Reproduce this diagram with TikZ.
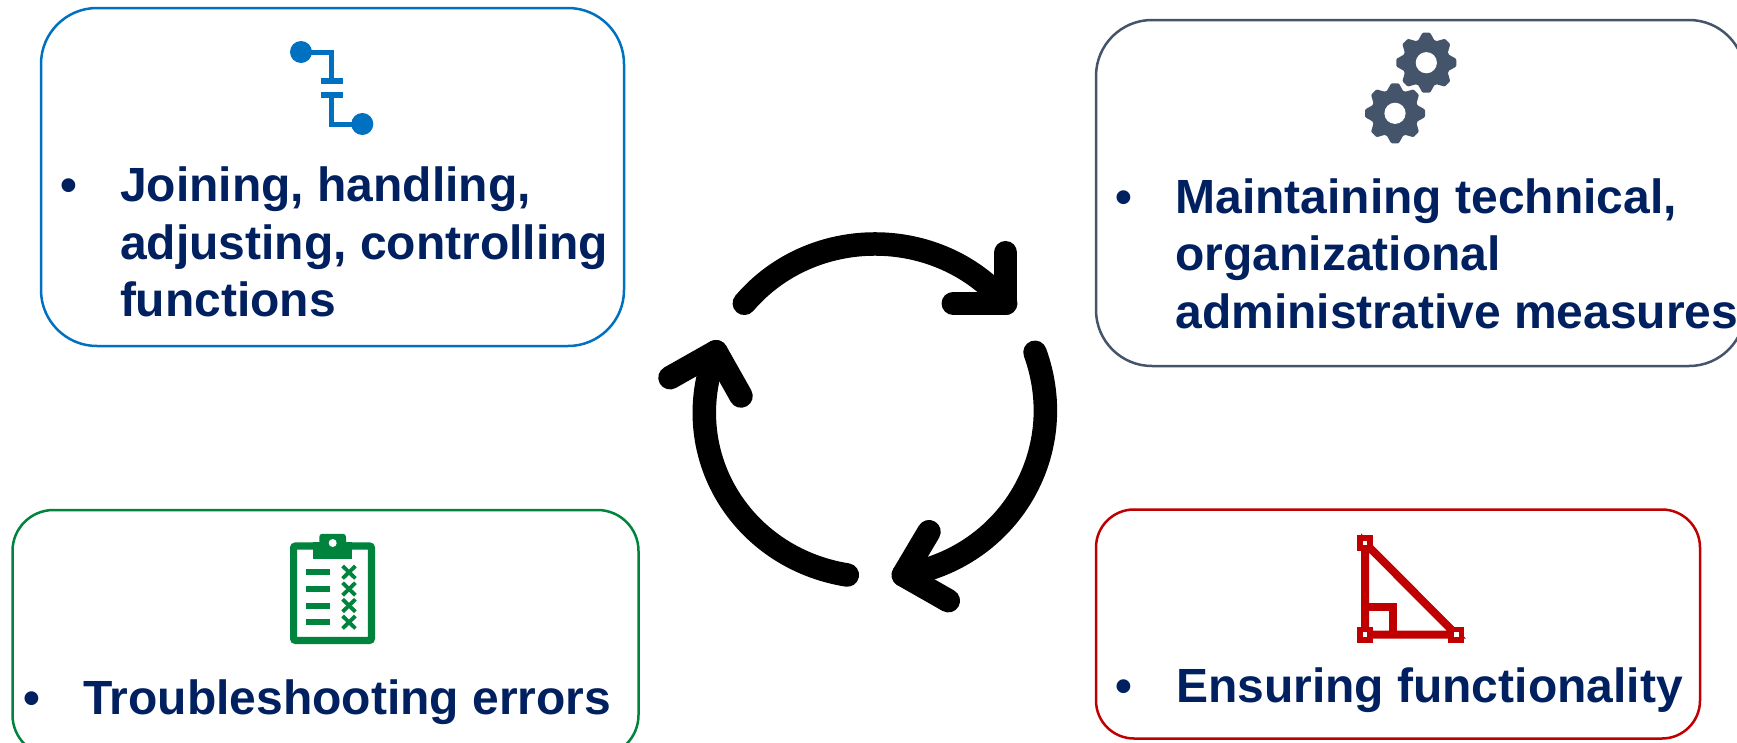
\documentclass[tikz,border=0pt]{standalone}
\usepackage{fontspec}
\setmainfont{Liberation Sans}
\definecolor{txtnavy}{HTML}{002060}
\definecolor{cblue}{HTML}{0070C0}
\definecolor{cslate}{HTML}{44546A}
\definecolor{cgreen}{HTML}{00843D}
\definecolor{cred}{HTML}{C00000}
\tikzset{
  x=1pt,y=-1pt,
  box/.style={draw=#1,line width=2.5pt,fill=white,rectangle,inner sep=0pt},
  label/.style={anchor=base west,inner sep=0pt,outer sep=0pt,text=txtnavy,align=left,
     font=\fontsize{48}{57.5}\selectfont\bfseries},
  bulletmark/.style={anchor=base west,inner sep=0pt,outer sep=0pt,text=txtnavy,
     font=\fontsize{48}{57.5}\selectfont\bfseries},
  cyc/.style={line width=23.5pt,line cap=round,line join=round,black},
  gear/.pic={
    \fill[cslate] (0,0) circle[radius=24];
    \foreach \a in {0,45,...,315}{
      \fill[cslate,rotate=\a,rounded corners=1pt]
        (-10,-19) -- (-3.8,-30) -- (3.8,-30) -- (10,-19) -- cycle;
    }
    \fill[white] (0,0) circle[radius=10.6];
  },
}
\begin{document}
\begin{tikzpicture}
\path[use as bounding box,clip] (0,0) rectangle (1737,742);
% boxes
\node[box=cblue,rounded corners=56pt,minimum width=583pt,minimum height=338pt] (b1) at (332.5,177) {};
\node[box=cslate,rounded corners=56pt,minimum width=649pt,minimum height=346pt] (b2) at (1420.5,193) {};
\node[box=cgreen,rounded corners=41pt,minimum width=626pt,minimum height=246pt] (b3) at (325.5,633) {};
\node[box=cred,rounded corners=38pt,minimum width=604pt,minimum height=229pt] (b4) at (1398,624) {};
% texts
\node[bulletmark] (m1) at (60,201.5) {•};
\node[label] (t1) at (120,316.5) {Joining, handling,\\adjusting, controlling\\functions};
\node[bulletmark] (m2) at (1115,213) {•};
\node[label] (t2) at (1175.5,328) {Maintaining technical,\\organizational\\administrative measures};
\node[bulletmark] (m3) at (23.5,714) {•};
\node[label] (t3) at (83,714) {Troubleshooting errors};
\node[bulletmark] (m4) at (1115,702) {•};
\node[label] (t4) at (1176,702) {Ensuring functionality};
% icon 1: contact
\coordinate (c1a) at (301,52);
\coordinate (c1b) at (331.7,81);
\coordinate (c1c) at (331.7,95);
\coordinate (c1d) at (362.3,124);
\draw[cblue,line width=5pt] (c1a) -| (c1b);
\draw[cblue,line width=5pt] (c1c) |- (c1d);
\fill[cblue] (c1a) circle[radius=11];
\fill[cblue] (c1d) circle[radius=11];
\draw[cblue,line width=5.4pt] ([xshift=-11pt]c1b) -- ([xshift=11pt]c1b);
\draw[cblue,line width=5.4pt] ([xshift=-11pt]c1c) -- ([xshift=11pt]c1c);
% icon 2: gears
\pic at (1426.3,62.7) {gear};
\pic at (1395,113.3) {gear};
% icon 3: clipboard
\draw[cgreen,line width=7.2pt,rounded corners=2pt,fill=white] (293.6,546) rectangle (371.4,640.4);
\fill[cgreen,rounded corners=3pt] (319.3,545) -- (319.3,533.8) -- (346,533.8) -- (346,545) -- cycle;
\fill[cgreen] (313,542) rectangle (352.3,558.6);
\fill[white] (332.7,543) circle[radius=4];
\foreach \y in {572.2,589,605.5,622.2}{
  \draw[cgreen,line width=6pt] (306,\y) -- (330,\y);
  \draw[cgreen,line width=3.8pt] (342.6,\y-6.2) -- (355.4,\y+6.2);
  \draw[cgreen,line width=3.8pt] (342.6,\y+6.2) -- (355.4,\y-6.2);
}
% icon 4: set square
\coordinate (t4a) at (1365,543);
\coordinate (t4b) at (1365,634.6);
\coordinate (t4c) at (1456.3,634.6);
\draw[cred,line width=8pt] (t4a) -- (t4b) -- (t4c) -- cycle;
\draw[cred,line width=8pt] (1365,606.9) -| (1392.7,634.6);
\foreach \p in {t4a,t4b,t4c}{
  \draw[cred,line width=5.8pt,fill=white] ([shift={(-5.2pt,-5.2pt)}]\p) rectangle ([shift={(5.2pt,5.2pt)}]\p);
}
% cycle arrows
\coordinate (s1) at (744.3,303.3);
\coordinate (e1) at (1005.7,303.3);
\coordinate (a1) at (1005.7,252.7);
\coordinate (d1) at (953.3,303.3);
\coordinate (s2) at (1035,352.3);
\coordinate (e2) at (903.3,575);
\coordinate (a2) at (929,531.7);
\coordinate (d2) at (948.3,600.7);
\coordinate (s3) at (847.3,575);
\coordinate (e3) at (716,351.7);
\coordinate (a3) at (670,377.7);
\coordinate (d3) at (741,396);
\draw[cyc] (s1) .. controls (811.8,224.2) and (938.2,224.2) .. (e1);
\draw[cyc] (a1) -- (e1) -- (d1);
\draw[cyc] (s2) .. controls (1071.5,453) and (1008,558) .. (e2);
\draw[cyc] (a2) -- (e2) -- (d2);
\draw[cyc] (s3) .. controls (741,558) and (676.5,453) .. (e3);
\draw[cyc] (a3) -- (e3) -- (d3);
\end{tikzpicture}
\end{document}
